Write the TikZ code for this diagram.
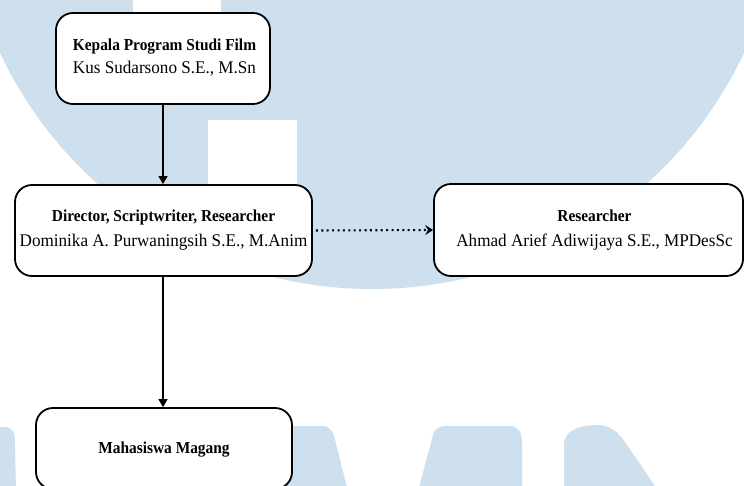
\documentclass[tikz,border=0pt]{standalone}
\usepackage{fontspec}
\setmainfont{Liberation Serif}
\newfontfamily\boldnarrow[FakeStretch=0.92]{Liberation Serif Bold}
\newfontfamily\regnarrow[FakeStretch=0.96]{Liberation Serif}
\usetikzlibrary{arrows.meta}
\definecolor{wm}{RGB}{206,223,238}
\tikzset{
  orgbox/.style={draw=black, line width=1.8bp, rounded corners=17bp, fill=white, inner sep=0pt},
  regtxt/.style={font=\fontsize{17.9}{20}\regnarrow, inner sep=0pt, anchor=base},
  boldtxt/.style={font=\fontsize{16.8}{19}\boldnarrow, inner sep=0pt, anchor=base},
  conn/.style={line width=1.5bp, -{Triangle[length=8bp,width=9bp]}},
  dotconn/.style={line width=2.1bp, dash pattern=on 2bp off 3.4bp, -{Stealth[length=8bp,width=10bp,inset=3bp]}}
}
\begin{document}
\begin{tikzpicture}[x=1bp,y=-1bp]
\useasboundingbox (0,0) rectangle (744,486);
\clip (0,0) rectangle (744,486);
% watermark
\fill[wm] (372,-122) circle (411bp);
\fill[white] (133,-5) rectangle (221,60);
\fill[white] (208,120) rectangle (297,276);
\fill[wm] (-5,495) -- (-5,427) -- (4,427) .. controls (12,427) and (15,432) .. (15,440) -- (16,495) -- cycle;
\fill[wm] (280,495) -- (280,426) -- (322,426) .. controls (330,426) and (334,432) .. (335,440) -- (349,495) -- cycle;
\fill[wm] (417,495) -- (433,435) .. controls (435,428) and (440,426) .. (447,426) -- (510,426) .. controls (518,426) and (522,432) .. (522,442) -- (522,495) -- cycle;
\fill[wm] (564,495) -- (564,445) .. controls (564,430) and (580,425) .. (598,425) .. controls (610,425) and (618,432) .. (625,442) -- (661,495) -- cycle;
% boxes
\node[orgbox, minimum width=214bp, minimum height=91bp] (kepala) at (163,58.5) {};
\node[orgbox, minimum width=297bp, minimum height=91bp] (director) at (163.5,230.5) {};
\node[orgbox, minimum width=309bp, minimum height=92bp] (researcher) at (588.5,230) {};
\node[orgbox, minimum width=256bp, minimum height=81bp] (mahasiswa) at (164,448.5) {};
% texts
\node[boldtxt] (k1) at (164.5,50.5) {Kepala Program Studi Film};
\node[regtxt] (k2) at (164.5,73.5) {Kus Sudarsono S.E., M.Sn};
\node[boldtxt] (d1) at (163.5,222) {Director, Scriptwriter, Researcher};
\node[regtxt] (d2) at (163.5,246.5) {Dominika A. Purwaningsih S.E., M.Anim};
\node[boldtxt] (r1) at (594.5,222) {Researcher};
\node[regtxt] (r2) at (594.5,246.5) {Ahmad Arief Adiwijaya S.E., MPDesSc};
\node[boldtxt] (m1) at (164,453) {Mahasiswa Magang};
% connectors
\draw[conn] (kepala.south) -- (kepala.south |- director.north);
\draw[conn] (director.south -| kepala.south) -- (kepala.south |- mahasiswa.north);
\draw[dotconn] ([xshift=3bp]director.east) -- (researcher.west);
\end{tikzpicture}
\end{document}
